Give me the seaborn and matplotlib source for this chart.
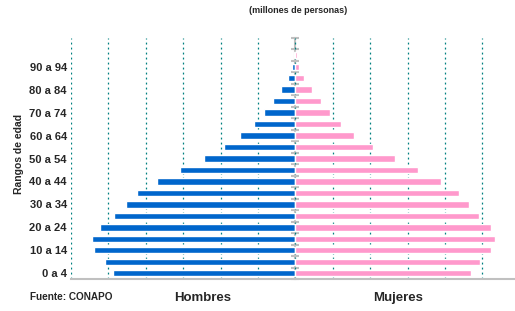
import pandas as pd
import matplotlib.pyplot as plt
import seaborn as sns

# ---------- DATOS ----------
rangos = ['0 a 4', '5 a 9', '10 a 14', '15 a 19', '20 a 24', '25 a 29',
          '30 a 34', '35 a 39', '40 a 44', '45 a 49', '50 a 54', '55 a 59',
          '60 a 64', '65 a 69', '70 a 74', '75 a 79', '80 a 84', '85 a 89',
          '90 a 94', '95 a 99']
hombres = [4.89, 5.10, 5.39, 5.45, 5.23, 4.86, 4.54, 4.24, 3.71, 3.09,
           2.45, 1.92, 1.49, 1.11, 0.85, 0.61, 0.39, 0.21, 0.10, 0.05]
mujeres = [4.70, 4.94, 5.23, 5.34, 5.23, 4.91, 4.64, 4.37, 3.89, 3.27,
           2.66, 2.07, 1.56, 1.21, 0.92, 0.68, 0.44, 0.22, 0.09, 0.03]
xticks = [-6, -5, -4, -3, -2, -1, 0, 1, 2, 3, 4, 5]

df = pd.DataFrame({
    'Rango': rangos * 2,
    'Sexo': ['Hombres'] * len(rangos) + ['Mujeres'] * len(rangos),
    'Valor': [-v for v in hombres] + mujeres,
})

sns.set_style("white")
plt.rcParams['font.family'] = ['Liberation Sans', 'DejaVu Sans']

fig = plt.figure(figsize=(5.15, 3.11), dpi=100)
ax = fig.add_axes([0.1379, 0.1029, 0.8621, 0.7749])

orden = rangos[::-1]
sns.barplot(data=df, x='Valor', y='Rango', hue='Sexo', order=orden,
            dodge=False, width=0.55, saturation=1, legend=False,
            palette={'Hombres': '#0066CC', 'Mujeres': '#FF99CC'}, ax=ax)

xmin, xmax = -6.0, 5.87
ax.set_xlim(xmin, xmax)
ax.set_ylim(len(rangos) - 0.5, -1.5)

# etiquetas de edad (una sí, una no)
pos = [orden.index(r) for r in rangos[::2]]
ax.set_yticks(pos, rangos[::2])
ax.tick_params(axis='y', length=0, pad=3, labelsize=8)
for t in ax.get_yticklabels():
    t.set_fontweight('bold')

ax.set_xticks(xticks)
ax.tick_params(axis='x', direction='out', length=6, width=1.5,
               color='#c0c0c0', labelbottom=False)
ax.xaxis.grid(True, color='#008080', linestyle=(0, (1.5, 2.5)), linewidth=0.9)
ax.set_axisbelow(True)

for s in ['top', 'right', 'left']:
    ax.spines[s].set_visible(False)
ax.spines['bottom'].set_color('#c0c0c0')
ax.spines['bottom'].set_linewidth(1.5)

# eje central
centro = (0 - xmin) / (xmax - xmin)
sec = ax.secondary_yaxis(centro)
sec.set_yticks([k - 0.5 for k in range(-1, len(rangos) + 1)])
sec.tick_params(direction='inout', length=6, width=1.5, color='#c0c0c0',
                labelleft=False, labelright=False)
for s in sec.spines.values():
    s.set_color('#c0c0c0')
    s.set_linewidth(1.5)

ax.set_xlabel('')
ax.set_ylabel('Rangos de edad', fontsize=7.5, fontweight='bold')
ax.yaxis.set_label_coords(-0.105, 0.519)

fig.text(0.578, 0.965, '(millones de personas)', ha='center', va='center',
         fontsize=6.5, fontweight='bold')
fig.text(0.058, 0.045, 'Fuente: CONAPO', ha='left', va='center', fontsize=7.2,
         fontweight='bold')
fig.text(0.394, 0.042, 'Hombres', ha='center', va='center', fontsize=9.5,
         fontweight='bold')
fig.text(0.773, 0.042, 'Mujeres', ha='center', va='center', fontsize=9.5,
         fontweight='bold')

fig.savefig('out.png', dpi=100)
